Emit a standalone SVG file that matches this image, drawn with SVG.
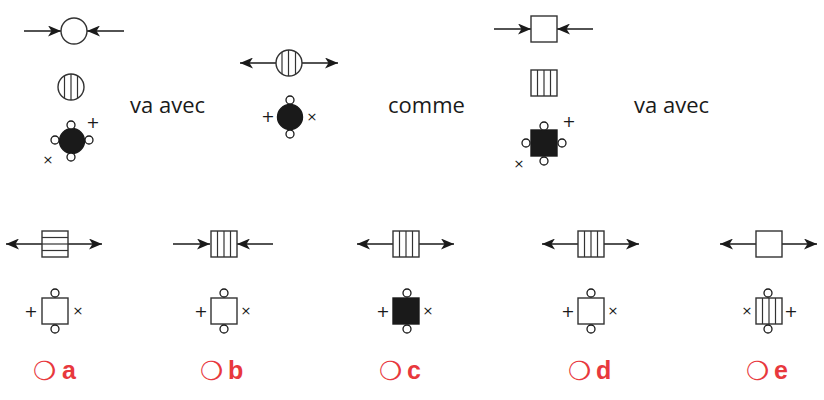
<svg xmlns="http://www.w3.org/2000/svg" width="824" height="400" viewBox="0 0 824 400">
<defs>
<marker id="ah" viewBox="0 0 13 11" refX="13" refY="5.5" markerWidth="13" markerHeight="11" markerUnits="userSpaceOnUse" orient="auto-start-reverse">
<path d="M0,0 L13,5.5 L0,11 L3.5,5.5 Z" fill="#1a1a1a"/>
</marker>
</defs>
<style>
.ln{stroke:#1a1a1a;stroke-width:1.4;fill:none}
.sh{stroke:#333;stroke-width:1.4;fill:#fff}
.blk{stroke:#1a1a1a;stroke-width:1.4;fill:#1a1a1a}
.st{stroke:#333;stroke-width:1.2}
.dot{stroke:#1a1a1a;stroke-width:1.3;fill:#fff}
.sym{font-family:"DejaVu Sans",sans-serif;font-size:13px;fill:#1a1a1a;text-anchor:middle}
.plus{font-family:"DejaVu Sans",sans-serif;font-size:16px;fill:#1a1a1a;text-anchor:middle}
.word{font-family:"Open Sans","Liberation Sans",sans-serif;font-size:22px;fill:#1a1a1a}
.opt{font-family:"DejaVu Sans",sans-serif;font-size:26px;fill:#e8383d}
.let{font-family:"Liberation Sans",Arial,sans-serif;font-size:25px;font-weight:bold;fill:#e8383d}
</style>

<g id="connectors">
<line class="ln" x1="24" y1="31" x2="61" y2="31" marker-end="url(#ah)"/>
<line class="ln" x1="124" y1="31" x2="87" y2="31" marker-end="url(#ah)"/>
<line class="ln" x1="240" y1="63" x2="276" y2="63" marker-start="url(#ah)"/>
<line class="ln" x1="302" y1="63" x2="338" y2="63" marker-end="url(#ah)"/>
<line class="ln" x1="494" y1="29" x2="531" y2="29" marker-end="url(#ah)"/>
<line class="ln" x1="593" y1="29" x2="557" y2="29" marker-end="url(#ah)"/>
<line class="ln" x1="6" y1="244" x2="42" y2="244" marker-start="url(#ah)"/>
<line class="ln" x1="68" y1="244" x2="102" y2="244" marker-end="url(#ah)"/>
<line class="ln" x1="173" y1="244" x2="210" y2="244" marker-end="url(#ah)"/>
<line class="ln" x1="273" y1="244" x2="237" y2="244" marker-end="url(#ah)"/>
<line class="ln" x1="357" y1="244" x2="393" y2="244" marker-start="url(#ah)"/>
<line class="ln" x1="419" y1="244" x2="454" y2="244" marker-end="url(#ah)"/>
<line class="ln" x1="542" y1="244" x2="578" y2="244" marker-start="url(#ah)"/>
<line class="ln" x1="604" y1="244" x2="639" y2="244" marker-end="url(#ah)"/>
<line class="ln" x1="720" y1="244" x2="756" y2="244" marker-start="url(#ah)"/>
<line class="ln" x1="782" y1="244" x2="817" y2="244" marker-end="url(#ah)"/>
</g>

<!-- top left -->
<g id="q1-circle"><circle class="sh" cx="74" cy="31" r="13"/></g>
<g id="q1-striped">
<circle class="sh" cx="71" cy="87" r="13"/>
<line class="st" x1="64.5" y1="76" x2="64.5" y2="98"/>
<line class="st" x1="71" y1="74" x2="71" y2="100"/>
<line class="st" x1="77.5" y1="76" x2="77.5" y2="98"/>
</g>
<g id="q1-black">
<circle class="blk" cx="72" cy="141" r="12.5"/>
<circle class="dot" cx="71" cy="125" r="4"/>
<circle class="dot" cx="71" cy="157" r="4"/>
<circle class="dot" cx="55" cy="140" r="4"/>
<circle class="dot" cx="89" cy="140" r="4"/>
<text class="plus" x="93" y="128">+</text>
<text class="sym" x="48" y="164">×</text>
</g>
<text class="word" x="130" y="113">va avec</text>

<!-- top middle -->
<g id="q2-striped">
<circle class="sh" cx="289" cy="63" r="13"/>
<line class="st" x1="282" y1="52" x2="282" y2="74"/>
<line class="st" x1="288.5" y1="50" x2="288.5" y2="76"/>
<line class="st" x1="295.5" y1="52" x2="295.5" y2="74"/>
</g>
<g id="q2-black">
<circle class="blk" cx="290" cy="117" r="12.5"/>
<circle class="dot" cx="290" cy="100" r="4"/>
<circle class="dot" cx="290" cy="134" r="4"/>
<text class="plus" x="268" y="122">+</text>
<text class="sym" x="312" y="121">×</text>
</g>
<text class="word" x="388" y="113">comme</text>

<!-- top right -->
<g id="q3-square"><rect class="sh" x="531" y="16" width="26" height="26"/></g>
<g id="q3-striped">
<rect class="sh" x="531" y="70" width="26" height="26"/>
<line class="st" x1="537.5" y1="70" x2="537.5" y2="96"/>
<line class="st" x1="544" y1="70" x2="544" y2="96"/>
<line class="st" x1="550.5" y1="70" x2="550.5" y2="96"/>
</g>
<g id="q3-black">
<rect class="blk" x="531" y="130" width="26" height="26"/>
<circle class="dot" cx="544" cy="126" r="4"/>
<circle class="dot" cx="544" cy="161" r="4"/>
<circle class="dot" cx="526" cy="143" r="4"/>
<circle class="dot" cx="562" cy="143" r="4"/>
<text class="plus" x="569" y="127">+</text>
<text class="sym" x="519" y="168">×</text>
</g>
<text class="word" x="634" y="113">va avec</text>

<!-- option a -->
<g id="a-top">
<rect class="sh" x="42" y="231" width="26" height="26"/>
<line class="st" x1="42" y1="237.5" x2="68" y2="237.5"/>
<line class="st" x1="42" y1="244" x2="68" y2="244"/>
<line class="st" x1="42" y1="250.5" x2="68" y2="250.5"/>
</g>
<g id="a-bottom">
<rect class="sh" x="42" y="298" width="26" height="26"/>
<circle class="dot" cx="55" cy="293" r="4"/>
<circle class="dot" cx="55" cy="329" r="4"/>
<text class="plus" x="31" y="317">+</text>
<text class="sym" x="78" y="315">×</text>
</g>
<g id="a-label"><text><tspan class="opt" x="33" y="380">❍</tspan><tspan class="let" x="62" y="379">a</tspan></text></g>

<!-- option b -->
<g id="b-top">
<rect class="sh" x="211" y="231" width="26" height="26"/>
<line class="st" x1="217.5" y1="231" x2="217.5" y2="257"/>
<line class="st" x1="224" y1="231" x2="224" y2="257"/>
<line class="st" x1="230.5" y1="231" x2="230.5" y2="257"/>
</g>
<g id="b-bottom">
<rect class="sh" x="211" y="298" width="26" height="26"/>
<circle class="dot" cx="224" cy="293" r="4"/>
<circle class="dot" cx="224" cy="329" r="4"/>
<text class="plus" x="201" y="317">+</text>
<text class="sym" x="246" y="315">×</text>
</g>
<g id="b-label"><text><tspan class="opt" x="200" y="380">❍</tspan><tspan class="let" x="228" y="379">b</tspan></text></g>

<!-- option c -->
<g id="c-top">
<rect class="sh" x="393" y="231" width="26" height="26"/>
<line class="st" x1="399.5" y1="231" x2="399.5" y2="257"/>
<line class="st" x1="406" y1="231" x2="406" y2="257"/>
<line class="st" x1="412.5" y1="231" x2="412.5" y2="257"/>
</g>
<g id="c-bottom">
<rect class="blk" x="393" y="298" width="26" height="26"/>
<circle class="dot" cx="407" cy="293" r="4"/>
<circle class="dot" cx="407" cy="329" r="4"/>
<text class="plus" x="383" y="317">+</text>
<text class="sym" x="428" y="315">×</text>
</g>
<g id="c-label"><text><tspan class="opt" x="379" y="380">❍</tspan><tspan class="let" x="407" y="379">c</tspan></text></g>

<!-- option d -->
<g id="d-top">
<rect class="sh" x="578" y="231" width="26" height="26"/>
<line class="st" x1="584.5" y1="231" x2="584.5" y2="257"/>
<line class="st" x1="591" y1="231" x2="591" y2="257"/>
<line class="st" x1="597.5" y1="231" x2="597.5" y2="257"/>
</g>
<g id="d-bottom">
<rect class="sh" x="578" y="298" width="26" height="26"/>
<circle class="dot" cx="591" cy="293" r="4"/>
<circle class="dot" cx="591" cy="329" r="4"/>
<text class="plus" x="568" y="317">+</text>
<text class="sym" x="613" y="315">×</text>
</g>
<g id="d-label"><text><tspan class="opt" x="568" y="380">❍</tspan><tspan class="let" x="596" y="379">d</tspan></text></g>

<!-- option e -->
<g id="e-top"><rect class="sh" x="756" y="231" width="26" height="26"/></g>
<g id="e-bottom">
<rect class="sh" x="756" y="298" width="26" height="26"/>
<line class="st" x1="762.5" y1="298" x2="762.5" y2="324"/>
<line class="st" x1="769" y1="298" x2="769" y2="324"/>
<line class="st" x1="775.5" y1="298" x2="775.5" y2="324"/>
<circle class="dot" cx="768" cy="293" r="4"/>
<circle class="dot" cx="768" cy="329" r="4"/>
<text class="sym" x="747" y="315">×</text>
<text class="plus" x="791" y="317">+</text>
</g>
<g id="e-label"><text><tspan class="opt" x="746" y="380">❍</tspan><tspan class="let" x="774" y="379">e</tspan></text></g>
</svg>
